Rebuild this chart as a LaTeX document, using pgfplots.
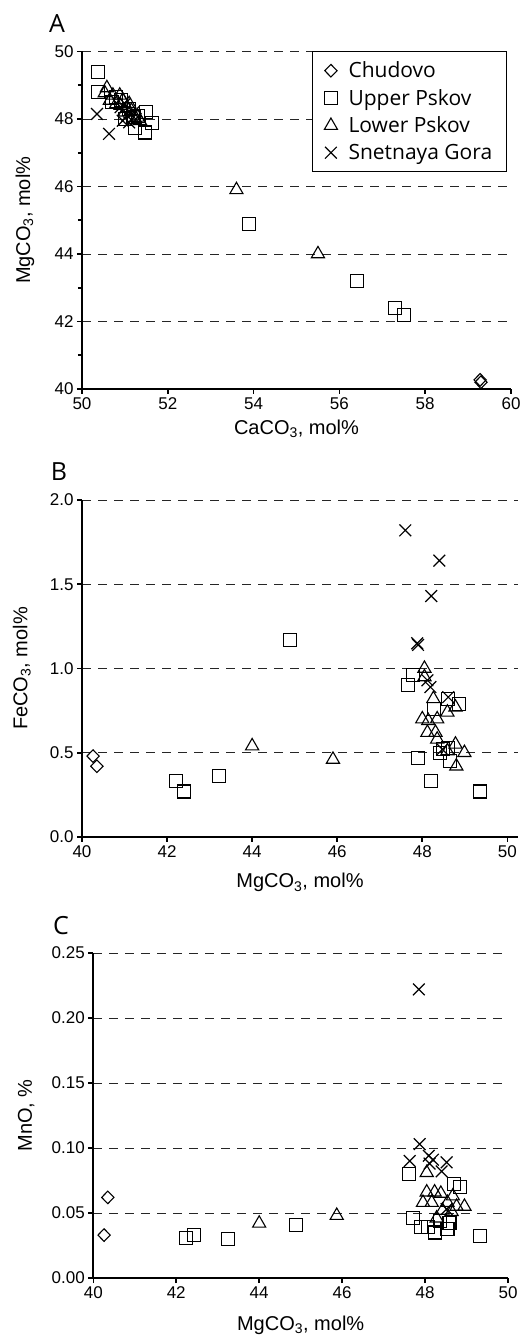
\documentclass[border=0pt]{standalone}
\usepackage{pgfplots}
\pgfplotsset{compat=1.18}
\usepackage{fontspec}
\setmainfont{Liberation Sans}
\newfontfamily\myr{Open Sans}
\begin{document}
\begin{tikzpicture}
\path (0pt,0pt) rectangle (526pt,1338pt);
\pgfplotsset{
  panel/.style={
    scale only axis,
    axis lines=left,
    axis line style={-, line width=2pt, black},
    tick align=outside,
    major tick length=5pt,
    minor tick length=4pt,
    tick style={line width=1.6pt, black},
    ymajorgrids,
    major grid style={dash pattern=on 9pt off 7pt, line width=0.9pt, black!85},
    ticklabel style={font=\fontsize{17}{17}\selectfont},
    /pgf/number format/assume math mode=true,
    label style={font=\fontsize{20}{20}\selectfont},
    xlabel style={anchor=center},
    ylabel style={anchor=center},
    clip=false,
  },
  chu/.style={only marks, mark=diamond, mark size=6.3pt, mark options={fill=white, draw=black, line width=1.1pt, xscale=1.3}},
  upp/.style={only marks, mark=square, mark size=6.5pt, mark options={fill=white, draw=black, line width=1.1pt}},
  low/.style={only marks, mark=triangle, mark size=7.6pt, mark options={fill=white, draw=black, line width=1.1pt}},
  sne/.style={only marks, mark=x, mark size=8.3pt, mark options={draw=black, line width=1.2pt}},
}
% Panel A
\begin{axis}[panel,
  at={(82pt,949pt)}, anchor=south west,
  width=429pt, height=337.5pt,
  xmin=50, xmax=60, ymin=40, ymax=50,
  xtick={50,52,...,60}, ytick={40,42,...,50},
  minor y tick num=1,
  xlabel={CaCO\textsubscript{3}, mol\%},
  ylabel={MgCO\textsubscript{3}, mol\%},
  xlabel style={at={(axis description cs:0.5,-0.118)}},
  ylabel style={at={(axis description cs:-0.133,0.5)}},
  legend style={draw=black, line width=1pt, at={(0.99,1)}, anchor=north east,
    fill=white,
    font=\myr\fontsize{21}{25}\selectfont, row sep=6pt, inner xsep=12pt, inner ysep=8pt,
    /tikz/every odd column/.append style={column sep=9pt}},
  legend cell align=left,
]
\addplot[chu] coordinates {(59.28,40.27) (59.3,40.2)};
\addlegendentry{Chudovo}
\addplot[upp] coordinates {(50.37,49.39) (50.37,48.8) (51.5,48.2) (51.63,47.87) (51.47,47.6) (51.23,47.72) (50.9,48.55) (51.1,48.3) (51.2,48.05) (50.8,48.65) (51.0,48.0) (51.3,48.1) (50.7,48.5) (53.9,44.9) (56.4,43.2) (57.3,42.4) (57.5,42.2)};
\addlegendentry{Upper Pskov}
\addplot[low] coordinates {(50.58,48.92) (50.53,48.77) (50.72,48.7) (50.88,48.7) (50.95,48.56) (51.05,48.33) (51.23,47.97) (50.65,48.55) (50.8,48.45) (51.0,48.2) (51.1,48.45) (51.15,48.25) (50.9,48.4) (51.3,48.05) (51.35,47.95) (53.6,45.9) (55.5,44.0)};
\addlegendentry{Lower Pskov}
\addplot[sne] coordinates {(50.35,48.15) (50.63,47.56) (50.95,47.95) (51.05,48.1) (51.1,47.9) (51.2,48.2) (50.9,48.35) (51.0,48.45) (51.25,48.0)};
\addlegendentry{Snetnaya Gora}
\end{axis}
\node[font=\myr\fontsize{25}{25}\selectfont] at (57pt,1314pt) {A};
% Panel B
\begin{axis}[panel,
  at={(82pt,501pt)}, anchor=south west,
  width=436pt, height=337pt,
  xmin=40, xmax=50.25, ymin=0, ymax=2,
  xtick={40,42,...,50}, ytick={0,0.5,...,2},
  yticklabel style={/pgf/number format/.cd, fixed, fixed zerofill, precision=1},
  xlabel={MgCO\textsubscript{3}, mol\%},
  ylabel={FeCO\textsubscript{3}, mol\%},
  xlabel style={at={(axis description cs:0.5,-0.136)}},
  ylabel style={at={(axis description cs:-0.138,0.5)}},
]
\addplot[chu] coordinates {(40.26,0.48) (40.35,0.42)};
\addplot[upp] coordinates {(42.21,0.33) (42.4,0.27) (43.22,0.36) (44.89,1.17) (49.36,0.27) (47.9,0.47) (48.21,0.33) (47.79,0.96) (47.67,0.90) (48.61,0.82) (48.87,0.79) (48.28,0.76) (48.49,0.52) (48.42,0.50) (48.61,0.53) (48.66,0.45)};
\addplot[low] coordinates {(44.0,0.54) (45.9,0.46) (48.05,1.0) (48.05,0.95) (48.78,0.77) (48.59,0.74) (48.26,0.82) (48.0,0.70) (48.14,0.69) (48.35,0.70) (48.12,0.62) (48.31,0.62) (48.35,0.58) (48.78,0.55) (48.99,0.50) (48.8,0.42) (48.59,0.51)};
\addplot[sne] coordinates {(47.6,1.82) (48.4,1.64) (48.21,1.43) (47.88,1.15) (47.9,1.14) (48.12,0.93) (48.19,0.89) (48.61,0.83) (48.47,0.52)};
\end{axis}
\node[font=\myr\fontsize{25}{25}\selectfont] at (59pt,866pt) {B};
% Panel C
\begin{axis}[panel,
  at={(93.3pt,60pt)}, anchor=south west,
  width=414.7pt, height=325pt,
  xmin=40, xmax=50, ymin=0, ymax=0.25,
  xtick={40,42,...,50}, ytick={0,0.05,...,0.25},
  yticklabel style={/pgf/number format/.cd, fixed, fixed zerofill, precision=2},
  xlabel={MgCO\textsubscript{3}, mol\%},
  ylabel={MnO, \%},
  xlabel style={at={(axis description cs:0.5,-0.145)}},
  ylabel style={at={(axis description cs:-0.162,0.5)}},
]
\addplot[chu] coordinates {(40.35,0.062) (40.26,0.033)};
\addplot[upp] coordinates {(42.23,0.031) (42.43,0.033) (43.25,0.030) (44.88,0.041) (49.32,0.032) (47.61,0.080) (48.7,0.072) (48.85,0.070) (47.7,0.046) (47.9,0.039) (48.23,0.035) (48.54,0.038) (48.07,0.039) (48.35,0.044) (48.59,0.042)};
\addplot[low] coordinates {(44.0,0.042) (45.87,0.048) (48.04,0.081) (48.04,0.066) (48.23,0.066) (48.38,0.065) (48.67,0.063) (47.95,0.058) (48.16,0.058) (48.54,0.058) (48.76,0.055) (48.95,0.055) (48.28,0.046) (48.64,0.051) (48.42,0.052)};
\addplot[sne] coordinates {(47.85,0.222) (47.87,0.103) (47.63,0.090) (48.09,0.094) (48.19,0.091) (48.52,0.089) (48.4,0.082) (48.11,0.088) (48.52,0.053)};
\end{axis}
\node[font=\myr\fontsize{25}{25}\selectfont] at (61pt,412pt) {C};
\end{tikzpicture}
\end{document}
